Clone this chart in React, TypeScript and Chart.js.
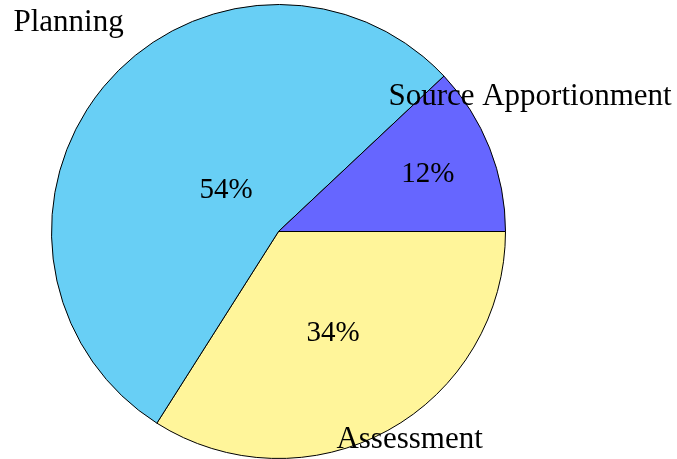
import React, { useEffect, useRef } from "react";
import { Chart, registerables } from "chart.js";

Chart.register(...registerables);

// Data (order drawn clockwise from 3 o'clock)
const categories = ["Assessment", "Planning", "Source Apportionment"];
const values = [34, 54, 12];
const percentLabels = ["34%", "54%", "12%"];
const colors = ["#FFF59A", "#68CFF5", "#6666FF"];

// label layout (angle tweak in degrees, radius as fraction of pie radius)
const percentRadius = [0.5, 0.3, 0.707];
const nameAngleTweak = [3.7, -5.5, 7];
const nameRadius = [1.075, 1.31, 1.262];

const FONT = "'Liberation Serif', 'Times New Roman', serif";

const labelPlugin = {
  id: "pieLabels",
  afterDatasetsDraw(chart: any) {
    const ctx = chart.ctx;
    const meta = chart.getDatasetMeta(0);
    ctx.save();
    ctx.fillStyle = "#000";
    ctx.textAlign = "center";
    ctx.textBaseline = "alphabetic";
    meta.data.forEach((arc: any, i: number) => {
      const { x, y, startAngle, endAngle, outerRadius } = arc.getProps(
        ["x", "y", "startAngle", "endAngle", "outerRadius"],
        true
      );
      const mid = (startAngle + endAngle) / 2;
      // percent label
      let fs = 29;
      ctx.font = `${fs}px ${FONT}`;
      let r = outerRadius * percentRadius[i];
      let px = x + Math.cos(mid) * r;
      let py = y + Math.sin(mid) * r;
      ctx.fillText(percentLabels[i], px, py + fs * 0.33);
      // category label
      fs = 31;
      ctx.font = `${fs}px ${FONT}`;
      const a = mid - (nameAngleTweak[i] * Math.PI) / 180;
      r = outerRadius * nameRadius[i];
      px = x + Math.cos(a) * r;
      py = y + Math.sin(a) * r;
      ctx.fillText(categories[i], px, py + fs * 0.33);
    });
    ctx.restore();
  },
};

export default function App() {
  const ref = useRef<HTMLCanvasElement | null>(null);
  useEffect(() => {
    if (!ref.current) return;
    const chart = new Chart(ref.current, {
      type: "pie",
      data: {
        labels: categories,
        datasets: [
          {
            data: values,
            backgroundColor: colors,
            borderColor: "#000000",
            borderWidth: 1,
          },
        ],
      },
      options: {
        responsive: false,
        animation: false,
        rotation: 90,
        layout: { padding: { left: 51, top: 4, right: 171, bottom: 0 } },
        plugins: {
          legend: { display: false },
          tooltip: { enabled: false },
        },
      },
      plugins: [labelPlugin],
    });
    return () => chart.destroy();
  }, []);
  return (
    <div style={{ position: "fixed", left: 0, top: 0, width: 677, height: 459, background: "#fff" }}>
      <canvas ref={ref} width={677} height={459} />
    </div>
  );
}
